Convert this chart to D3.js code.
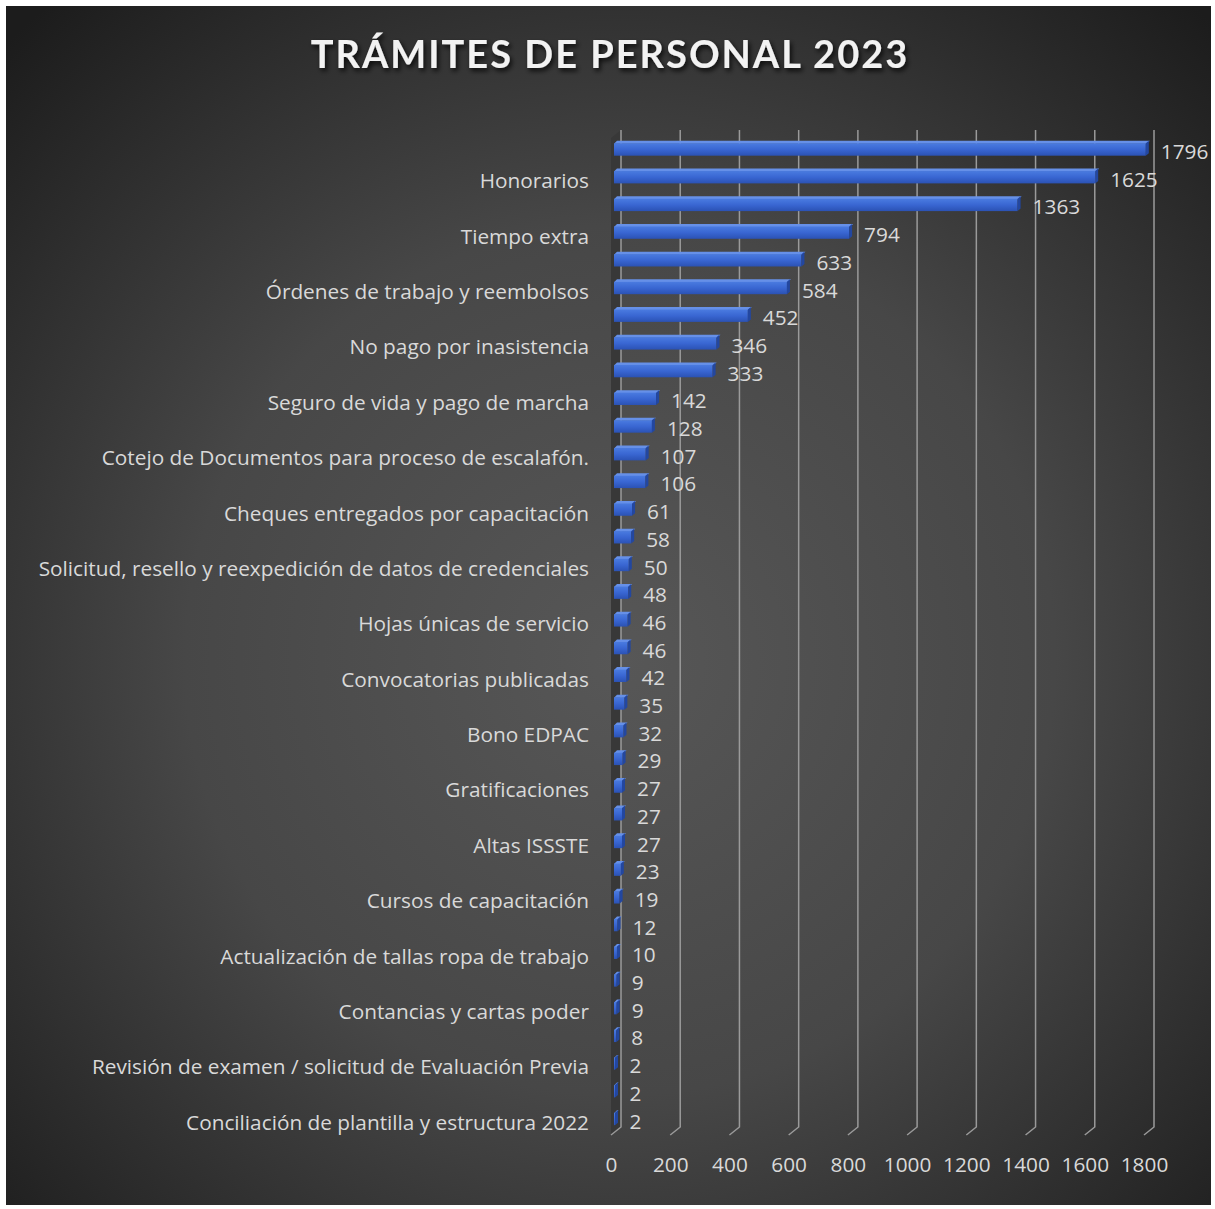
<!DOCTYPE html>
<html>
<head>
<meta charset="utf-8">
<script src="https://cdn.jsdelivr.net/npm/d3@7"></script>
<style>
  body { margin: 0; background: #fff; }
  svg text { font-family: "Open Sans", Lato, sans-serif; }
</style>
</head>
<body>
<div id="chart"></div>
<script>
// categories (only every other label is shown in the original chart)
var labels = [
  "", "Honorarios", "", "Tiempo extra", "", "Órdenes de trabajo y reembolsos",
  "", "No pago por inasistencia", "", "Seguro de vida y pago de marcha",
  "", "Cotejo de Documentos para proceso de escalafón.", "", "Cheques entregados por capacitación",
  "", "Solicitud, resello y reexpedición de datos de credenciales ", "", "Hojas únicas de servicio",
  "", "Convocatorias publicadas", "", "Bono EDPAC", "", "Gratificaciones",
  "", "Altas ISSSTE", "", "Cursos de capacitación", "", "Actualización de tallas ropa de trabajo",
  "", "Contancias y cartas poder", "", "Revisión de examen / solicitud de Evaluación Previa",
  "", "Conciliación de plantilla y estructura 2022"
];
var values = [
  1796, 1625, 1363, 794, 633, 584, 452, 346, 333, 142, 128, 107, 106, 61, 58, 50, 48, 46,
  46, 42, 35, 32, 29, 27, 27, 27, 23, 19, 12, 10, 9, 9, 8, 2, 2, 2
];
var ticks = [0, 200, 400, 600, 800, 1000, 1200, 1400, 1600, 1800];
var title = "TRÁMITES DE PERSONAL 2023";

var W = 1215, H = 1209;
var svg = d3.select("#chart").append("svg").attr("width", W).attr("height", H);

var defs = svg.append("defs");
var bg = defs.append("radialGradient").attr("id", "bg")
    .attr("gradientUnits", "userSpaceOnUse")
    .attr("cx", 620).attr("cy", 660).attr("r", 870);
bg.append("stop").attr("offset", "0%").attr("stop-color", "#575757");
bg.append("stop").attr("offset", "50%").attr("stop-color", "#474747");
bg.append("stop").attr("offset", "100%").attr("stop-color", "#1c1c1c");

var barGrad = defs.append("linearGradient").attr("id", "barFront")
    .attr("x1", 0).attr("y1", 0).attr("x2", 0).attr("y2", 1);
barGrad.append("stop").attr("offset", "0%").attr("stop-color", "#4a7be0");
barGrad.append("stop").attr("offset", "50%").attr("stop-color", "#3966d2");
barGrad.append("stop").attr("offset", "100%").attr("stop-color", "#2b52b4");

var shadow = defs.append("filter").attr("id", "shadow")
    .attr("x", "-10%").attr("y", "-30%").attr("width", "120%").attr("height", "160%");
shadow.append("feDropShadow").attr("dx", 2).attr("dy", 3).attr("stdDeviation", 2.5)
    .attr("flood-color", "#000").attr("flood-opacity", 0.8);

svg.append("rect").attr("x", 6).attr("y", 6).attr("width", 1205).attr("height", 1199)
    .attr("fill", "url(#bg)");

// title
svg.append("text")
    .attr("x", 610).attr("y", 68)
    .attr("text-anchor", "middle")
    .attr("fill", "#f2f2f2")
    .attr("font-size", 38).attr("font-weight", "bold")
    .attr("letter-spacing", 2)
    .attr("filter", "url(#shadow)")
    .style("font-family", "Lato, 'Open Sans', sans-serif")
    .text(title);

// scales: back wall, bar depth and front floor
var depthX = 10, depthY = 8;
var x = d3.scaleLinear().domain([0, 1800]).range([621, 1154]);
var y = d3.scaleBand().domain(d3.range(values.length)).range([128, 1139]).padding(0.5);
var gridTop = 130, gridBottom = 1127;

// left wall
svg.append("polygon")
    .attr("points", [[x(0) - depthX, gridTop + depthY], [x(0), gridTop], [x(0), gridBottom], [x(0) - depthX, gridBottom + depthY]].join(" "))
    .attr("fill", "#383838");

// gridlines
svg.append("g").selectAll("polyline")
    .data(ticks)
    .join("polyline")
    .attr("points", function (d) {
        return [[x(d), gridTop], [x(d), gridBottom], [x(d) - depthX, gridBottom + depthY]].join(" ");
    })
    .attr("fill", "none")
    .attr("stroke", "#9a9a9a")
    .attr("stroke-width", 1.5);

// bars (drawn half way into the depth)
var off = depthX / 2;
function bx(v) { return x(v) - off; }
var bh = y.bandwidth();
var bars = svg.append("g").selectAll("g").data(values).join("g")
    .attr("transform", function (d, i) { return "translate(0," + y(i) + ")"; });

bars.append("polygon")
    .attr("points", function (d) {
        return [[bx(0) - 2, 2], [bx(0) + 1, -1], [bx(d) + 2, -1], [bx(d) - 1, 2]].join(" ");
    })
    .attr("fill", "#6690e8");
bars.append("rect")
    .attr("x", bx(0) - 2)
    .attr("y", 1.5)
    .attr("width", function (d) { return Math.max(bx(d) - bx(0), 1); })
    .attr("height", bh - 1.5)
    .attr("fill", "url(#barFront)");
bars.append("polygon")
    .attr("points", function (d) {
        var e = Math.max(bx(d), bx(0) + 1) - 2;
        return [[e, 1.5], [e + 3, -1], [e + 3, bh - 2.5], [e, bh]].join(" ");
    })
    .attr("fill", "#2347a0");

// value labels
svg.append("g").selectAll("text").data(values).join("text")
    .attr("x", function (d) { return bx(d) + 13; })
    .attr("y", function (d, i) { return y(i) + bh / 2 + 3; })
    .attr("dy", "0.35em")
    .attr("fill", "#d9d9d9")
    .attr("font-size", 20.8)
    .text(function (d) { return d; });

// category axis
var yAxis = d3.axisLeft(y).tickSize(0).tickPadding(0)
    .tickFormat(function (i) { return labels[i]; });
var ga = svg.append("g").attr("transform", "translate(589,5)").call(yAxis);
ga.select(".domain").remove();
ga.selectAll("text").attr("fill", "#d9d9d9").attr("font-size", 20.8)
    .style("font-family", "'Open Sans', Lato, sans-serif");

// value axis on the front floor
var xFront = d3.scaleLinear().domain(x.domain()).range([x(0) - depthX, x(1800) - depthX]);
var xAxis = d3.axisBottom(xFront).tickValues(ticks).tickSize(0).tickPadding(0)
    .tickFormat(d3.format("d"));
var gx = svg.append("g").attr("transform", "translate(0,1157)").call(xAxis);
gx.select(".domain").remove();
gx.selectAll("text").attr("fill", "#d9d9d9").attr("font-size", 20.8)
    .style("font-family", "'Open Sans', Lato, sans-serif");
</script>
</body>
</html>
